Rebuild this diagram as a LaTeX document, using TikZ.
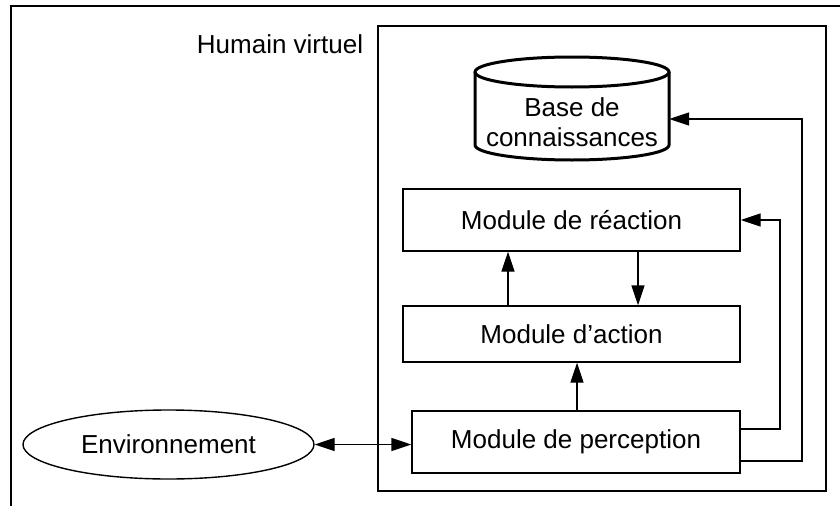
\documentclass[tikz,border=0pt]{standalone}
\usepackage{fontspec}
\setmainfont{Liberation Sans}
\usetikzlibrary{arrows.meta,calc,shapes.geometric}
\begin{document}
\begin{tikzpicture}[x=1pt,y=-1pt,
  every node/.style={font=\fontsize{26pt}{30pt}\selectfont, inner sep=0pt},
  modbox/.style={draw, line width=1.4pt, rectangle},
  arr/.style={line width=1.4pt, -{Triangle[length=20pt,width=13pt]}},
  arrtwo/.style={line width=1.4pt, {Triangle[length=20pt,width=13pt]}-{Triangle[length=20pt,width=13pt]}},
  frame/.style={line width=1.5pt}]
\useasboundingbox (0,0) rectangle (840,506);
% outer frame (partly outside)
\draw[frame] (11,506) -- (11,6) -- (840,6);
% human box
\node[draw, line width=1.5pt, minimum width=448pt, minimum height=465pt] (hv) at (602,258.5) {};
\node[anchor=base] (hvlabel) at (280,53) {Humain virtuel};
% knowledge base cylinder
\node[minimum width=194pt, minimum height=103pt, align=center] (kb) at (572,108.5) {};
\draw[line width=3pt] (572,72) ellipse [x radius=97, y radius=15];
\draw[line width=3pt] (475,72) -- (475,145) arc[start angle=180, end angle=0, x radius=97, y radius=15] -- (669,72);
\node[anchor=base] (kbt1) at (572,116) {Base de};
\node[anchor=base] (kbt2) at (572,146) {connaissances};
% modules
\node[modbox, minimum width=337pt, minimum height=62pt] (react) at (571.5,220) {Module de réaction};
\node[modbox, minimum width=337pt, minimum height=56pt] (act) at (571.5,334) {Module d’action};
\node[modbox, minimum width=328pt, minimum height=62pt] (perc) at (576,442) {Module de perception};
% environment
\node[draw, ellipse, line width=1.4pt, minimum width=291pt, minimum height=69pt] (env) at (168.5,444.5) {Environnement};
% coordinates
\coordinate (xa) at (508,0);
\coordinate (xb) at (638,0);
\coordinate (xc) at (577,0);
\coordinate (c1) at (780,300);
\coordinate (c2) at (802,300);
% connectors
\draw[arr] (act.north -| xa) -- (react.south -| xa);
\draw[arr] (react.south -| xb) -- (act.north -| xb);
\draw[arr] (perc.north -| xc) -- (act.south -| xc);
\draw[arr] ([yshift=13pt]perc.east) -| (c1) |- (react.east);
\draw[arr] ([yshift=-19pt]perc.east) -| (c2) |- ([yshift=-10.5pt]kb.east);
\draw[arrtwo] (env.east) -- (env.east -| perc.west);
\end{tikzpicture}
\end{document}
